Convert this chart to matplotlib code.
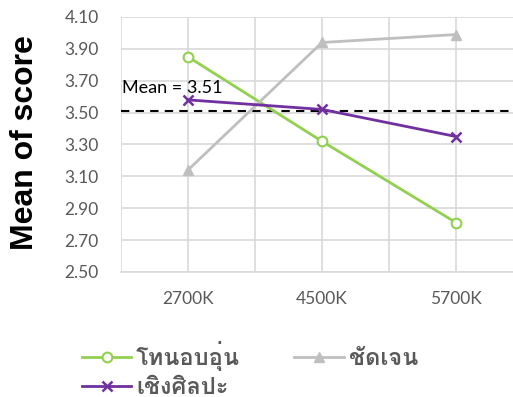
import matplotlib
matplotlib.use("Agg")
import matplotlib.pyplot as plt
from matplotlib import font_manager
from matplotlib.ft2font import FT2Font

# data
categories = ["2700K", "4500K", "5700K"]
series_names = ["โทนอบอุ่น", "ชัดเจน", "เชิงศิลปะ"]
warm = [3.85, 3.32, 2.81]
clear = [3.14, 3.94, 3.99]
artistic = [3.58, 3.52, 3.35]
mean_score = 3.51
y_ticks = [2.50, 2.70, 2.90, 3.10, 3.30, 3.50, 3.70, 3.90, 4.10]


def find_thai_font():
    preferred = []
    others = []
    for f in font_manager.fontManager.ttflist:
        try:
            cmap = FT2Font(f.fname).get_charmap()
        except Exception:
            continue
        if 0x0E17 in cmap and 0x0E38 in cmap:
            if f.weight in ("bold", 700) or "Bold" in f.fname:
                preferred.append(f.name)
            else:
                others.append(f.name)
    names = preferred + others
    return names[0] if names else None


thai = find_thai_font()
label_family = [thai, "DejaVu Sans"] if thai else ["DejaVu Sans"]

GREY_TEXT = "#595959"
GRID = "#D9D9D9"

fig = plt.figure(figsize=(5.13, 3.97), dpi=100)
ax = fig.add_axes([121 / 513, 1 - 272 / 397, 402 / 513, 255 / 397])

x = [0, 1, 2]
ax.plot(x, warm, color="#92D050", lw=2, marker="o", ms=7,
        mfc="white", mec="#92D050", mew=1.5, label=series_names[0], zorder=3)
ax.plot(x, clear, color="#BFBFBF", lw=2, marker="^", ms=7,
        mfc="#BFBFBF", mec="#BFBFBF", label=series_names[1], zorder=3)
ax.plot(x, artistic, color="#7030A0", lw=2, marker="x", ms=7,
        mew=1.8, label=series_names[2], zorder=3)

ax.axhline(mean_score, color="black", lw=1.5, ls=(0, (4, 3)), zorder=2)
ax.text(-0.49, mean_score + 0.115, f"Mean = {mean_score:.2f}", fontsize=13,
        family="Lato", color="black", va="baseline", ha="left", zorder=4)

ax.set_xlim(-0.5, 2.5)
ax.set_ylim(2.50, 4.10)
ax.set_yticks(y_ticks)
ax.set_yticklabels([f"{v:.2f}" for v in y_ticks])
ax.set_xticks(x)
ax.set_xticklabels(categories)
ax.set_xticks([-0.5, 0.5, 1.5, 2.5], minor=True)
ax.grid(True, which="both", axis="x", color=GRID, lw=1.2, zorder=0)
ax.grid(True, which="major", axis="y", color=GRID, lw=1.2, zorder=0)
ax.tick_params(which="both", length=0)
ax.tick_params(axis="y", pad=16, labelsize=12.5, labelcolor=GREY_TEXT)
ax.tick_params(axis="x", pad=14, labelsize=12.5, labelcolor=GREY_TEXT)
for lbl in ax.get_xticklabels() + ax.get_yticklabels():
    lbl.set_family("Lato")
for s in ax.spines.values():
    s.set_visible(False)
ax.spines["bottom"].set_visible(True)
ax.spines["bottom"].set_color(GRID)
ax.spines["bottom"].set_linewidth(1.2)

fig.text(25 / 513, 1 - 143 / 397, "Mean of score", rotation=90, ha="center",
         va="center", fontsize=23, fontweight="bold", family="Liberation Sans",
         color="black")

handles, labels = ax.get_legend_handles_labels()
order = [0, 2, 1]
leg = fig.legend([handles[i] for i in order], [labels[i] for i in order],
                 ncol=2, loc="center left", bbox_to_anchor=(70 / 513, 1 - 370 / 397),
                 frameon=False, handlelength=2.1, handletextpad=0.2,
                 columnspacing=2.3, labelspacing=0.2, borderpad=0,
                 prop={"family": label_family, "weight": "bold", "size": 17})
for t in leg.get_texts():
    t.set_color(GREY_TEXT)

fig.savefig("out.png", dpi=100)
